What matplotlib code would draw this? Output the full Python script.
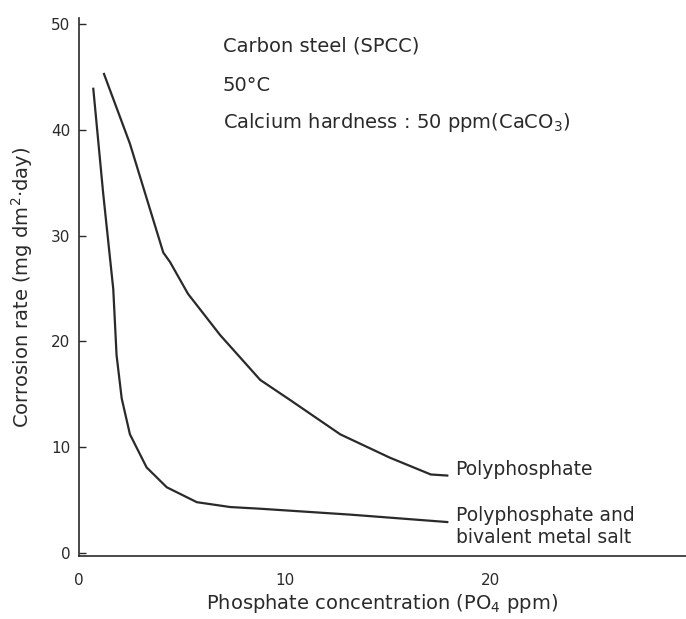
import matplotlib
matplotlib.use("Agg")
import matplotlib.pyplot as plt

# Corrosion of carbon steel vs. phosphate dose
poly_x = [1.22, 2.48, 4.10, 4.43, 5.3, 6.86, 8.81, 10.3, 12.7, 15.1, 17.1, 17.9]
poly_y = [45.3, 38.7, 28.4, 27.5, 24.5, 20.6, 16.35, 14.4, 11.2, 9.0, 7.4, 7.3]

salt_x = [0.70, 1.18, 1.67, 1.83, 2.08, 2.48, 3.29, 4.27, 5.73, 7.35, 8.81, 13.2, 17.9]
salt_y = [43.9, 34.0, 24.95, 18.7, 14.6, 11.2, 8.07, 6.19, 4.78, 4.32, 4.16, 3.6, 2.9]

y_ticks = [0, 10, 20, 30, 40, 50]
x_ticks = [0, 10, 20]

INK = "#2a2a2a"

plt.rcParams["font.family"] = ["DejaVu Sans"]

fig = plt.figure(figsize=(6.86, 6.19), dpi=100)
ax = fig.add_axes([0.115, 0.102, 0.885, 0.869])

ax.plot(poly_x, poly_y, color=INK, lw=1.6, solid_joinstyle="round")
ax.plot(salt_x, salt_y, color=INK, lw=1.6, solid_joinstyle="round")

ax.set_xlim(0, 29.5)
ax.set_ylim(-0.3, 50.6)
ax.set_xticks(x_ticks)
ax.set_yticks(y_ticks)
ax.tick_params(axis="y", direction="in", length=5, width=1, colors=INK,
               labelsize=11, pad=6)
ax.tick_params(axis="x", length=0, labelsize=11, colors=INK, pad=12)

for side in ("top", "right"):
    ax.spines[side].set_visible(False)
for side in ("left", "bottom"):
    ax.spines[side].set_color(INK)
    ax.spines[side].set_linewidth(1.2)

ax.set_xlabel("Phosphate concentration (PO$_4$ ppm)", fontsize=14, color=INK,
              labelpad=3)
ax.set_ylabel("Corrosion rate (mg dm$^2$·day)", fontsize=14, color=INK,
              labelpad=12)

ax.text(7.0, 47.9, "Carbon steel (SPCC)", fontsize=14, color=INK, va="center")
ax.text(7.0, 44.2, "50°C", fontsize=14, color=INK, va="center")
ax.text(7.0, 40.7, "Calcium hardness : 50 ppm(CaCO$_3$)", fontsize=14,
        color=INK, va="center")

ax.text(18.3, 7.9, "Polyphosphate", fontsize=13.5, color=INK, va="center")
ax.text(18.3, 2.5, "Polyphosphate and\nbivalent metal salt", fontsize=13.5,
        color=INK, va="center", linespacing=1.2)

fig.savefig("out.png", dpi=100)
